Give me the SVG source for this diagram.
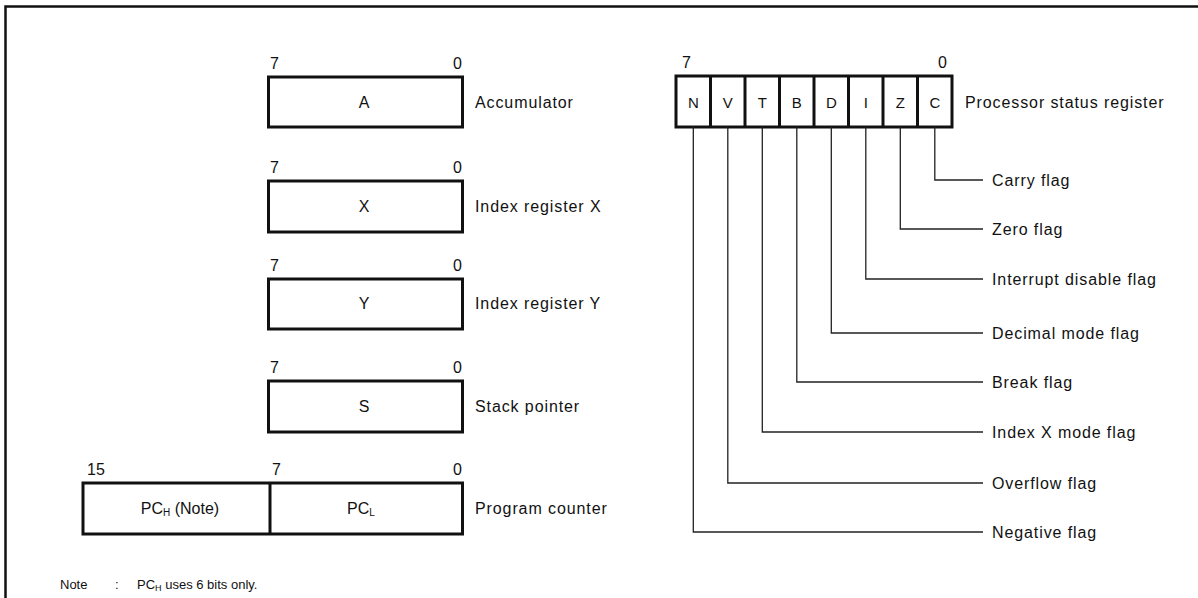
<svg xmlns="http://www.w3.org/2000/svg" width="1198" height="598" viewBox="0 0 1198 598">
<style>
text{font-family:"Liberation Sans",Arial,sans-serif;fill:#111}
.lbl{font-size:16px;letter-spacing:0.9px}
.bit{font-size:16px}
.reg{font-size:16px;text-anchor:middle}
.cell{font-size:15px;text-anchor:middle}
.note{font-size:13px}
.end{text-anchor:end}
.box{fill:#fff;stroke:#111;stroke-width:3}
.div{stroke:#111;stroke-width:3}
.frame{stroke:#111;stroke-width:2.5;fill:none}
.con{fill:none;stroke:#222;stroke-width:1.3}
</style>
<g id="frame">
<polyline class="frame" points="5.5,598 5.5,6.5 1198,6.5"/>
</g>
<g id="reg-A">
<text class="bit" x="270" y="69">7</text>
<text class="bit end" x="462" y="69">0</text>
<rect class="box" x="268.5" y="77" width="194" height="50"/>
<text class="reg" x="364" y="108">A</text>
<text class="lbl" x="475" y="108">Accumulator</text>
</g>
<g id="reg-X">
<text class="bit" x="270" y="173">7</text>
<text class="bit end" x="462" y="173">0</text>
<rect class="box" x="268.5" y="181" width="194" height="51"/>
<text class="reg" x="364" y="212">X</text>
<text class="lbl" x="475" y="212">Index register X</text>
</g>
<g id="reg-Y">
<text class="bit" x="270" y="271">7</text>
<text class="bit end" x="462" y="271">0</text>
<rect class="box" x="268.5" y="279" width="194" height="50"/>
<text class="reg" x="364" y="309">Y</text>
<text class="lbl" x="475" y="309">Index register Y</text>
</g>
<g id="reg-S">
<text class="bit" x="270" y="373">7</text>
<text class="bit end" x="462" y="373">0</text>
<rect class="box" x="268.5" y="381" width="194" height="51"/>
<text class="reg" x="364" y="412">S</text>
<text class="lbl" x="475" y="412">Stack pointer</text>
</g>
<g id="reg-PC">
<text class="bit" x="87" y="475">15</text>
<text class="bit" x="272" y="475">7</text>
<text class="bit end" x="462" y="475">0</text>
<rect class="box" x="83" y="483" width="379.5" height="51"/>
<line class="div" x1="270" y1="483" x2="270" y2="534"/>
<text class="reg" x="180" y="514">PC<tspan font-size="10" dy="2">H</tspan><tspan dy="-2"> (Note)</tspan></text>
<text class="reg" x="361" y="514">PC<tspan font-size="10" dy="2">L</tspan></text>
<text class="lbl" x="475" y="514">Program counter</text>
</g>
<g id="psr">
<text class="bit" x="682" y="68">7</text>
<text class="bit end" x="947" y="68">0</text>
<rect class="box" x="676" y="76" width="276" height="51"/>
<line class="div" x1="710.5" y1="76" x2="710.5" y2="127"/>
<line class="div" x1="745" y1="76" x2="745" y2="127"/>
<line class="div" x1="779.5" y1="76" x2="779.5" y2="127"/>
<line class="div" x1="814" y1="76" x2="814" y2="127"/>
<line class="div" x1="848.5" y1="76" x2="848.5" y2="127"/>
<line class="div" x1="883" y1="76" x2="883" y2="127"/>
<line class="div" x1="917.5" y1="76" x2="917.5" y2="127"/>
<text class="cell" x="693.3" y="107.5">N</text>
<text class="cell" x="727.8" y="107.5">V</text>
<text class="cell" x="762.3" y="107.5">T</text>
<text class="cell" x="796.8" y="107.5">B</text>
<text class="cell" x="831.3" y="107.5">D</text>
<text class="cell" x="865.8" y="107.5">I</text>
<text class="cell" x="900.3" y="107.5">Z</text>
<text class="cell" x="934.8" y="107.5">C</text>
<text class="lbl" x="965" y="108">Processor status register</text>
</g>
<g id="connectors">
<polyline class="con" points="934.8,127 934.8,180 983,180"/>
<polyline class="con" points="900.3,127 900.3,229 983,229"/>
<polyline class="con" points="865.8,127 865.8,279 983,279"/>
<polyline class="con" points="831.3,127 831.3,333 983,333"/>
<polyline class="con" points="796.8,127 796.8,382 983,382"/>
<polyline class="con" points="762.3,127 762.3,432 983,432"/>
<polyline class="con" points="727.8,127 727.8,483 983,483"/>
<polyline class="con" points="693.3,127 693.3,532 983,532"/>
</g>
<g id="flag-labels">
<text class="lbl" x="992" y="186">Carry flag</text>
<text class="lbl" x="992" y="235">Zero flag</text>
<text class="lbl" x="992" y="285">Interrupt disable flag</text>
<text class="lbl" x="992" y="339">Decimal mode flag</text>
<text class="lbl" x="992" y="388">Break flag</text>
<text class="lbl" x="992" y="438">Index X mode flag</text>
<text class="lbl" x="992" y="489">Overflow flag</text>
<text class="lbl" x="992" y="538">Negative flag</text>
</g>
<g id="note">
<text class="note" x="60" y="589">Note</text>
<text class="note" x="115" y="589">:</text>
<text class="note" x="137" y="589">PC<tspan font-size="9" dy="1.5">H</tspan><tspan dy="-1.5"> uses 6 bits only.</tspan></text>
</g>
</svg>
